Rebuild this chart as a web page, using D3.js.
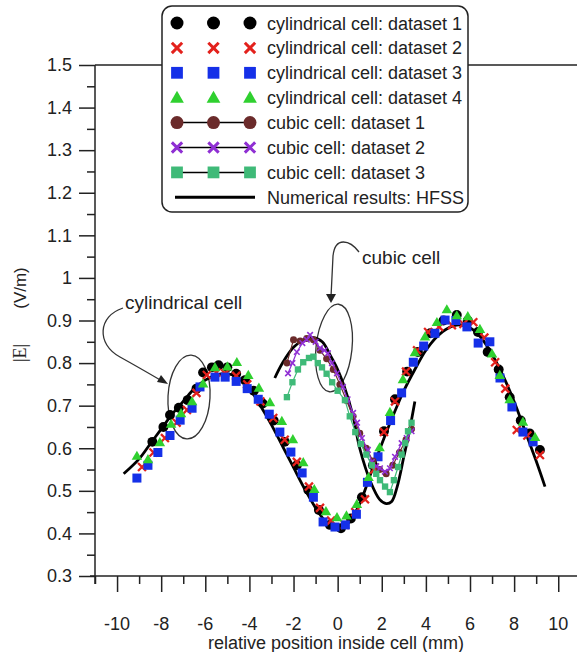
<!DOCTYPE html>
<html>
<head>
<meta charset="utf-8">
<script src="https://cdn.jsdelivr.net/npm/d3@7"></script>
<style>
  html, body { margin: 0; padding: 0; background: #fff; overflow: hidden; }
  svg { display: block; font-family: "Liberation Sans", Arial, sans-serif; }
</style>
</head>
<body>
<div id="chart"></div>
<script>
// ---- data ----
const xTicks = [-10, -8, -6, -4, -2, 0, 2, 4, 6, 8, 10];
const xMinor = [-11, -9, -7, -5, -3, -1, 1, 3, 5, 7, 9];
const yTicks = [0.3, 0.4, 0.5, 0.6, 0.7, 0.8, 0.9, 1, 1.1, 1.2, 1.3, 1.4, 1.5];
const yMinor = [0.35, 0.45, 0.55, 0.65, 0.75, 0.85, 0.95, 1.05, 1.15, 1.25, 1.35, 1.45];

const legendLabels = [
  "cylindrical cell: dataset 1", "cylindrical cell: dataset 2",
  "cylindrical cell: dataset 3", "cylindrical cell: dataset 4",
  "cubic cell: dataset 1", "cubic cell: dataset 2", "cubic cell: dataset 3",
  "Numerical results: HFSS"
];

const cyl1 = [[-8.4,0.615],[-7.9,0.65],[-7.6,0.678],[-7.2,0.695],[-6.8,0.713],[-6.4,0.74],[-6.1,0.778],[-5.7,0.79],[-5.4,0.795],[-5.0,0.79],[-4.6,0.775],[-4.2,0.76],[-3.8,0.735],[-3.4,0.705],[-2.9,0.665],[-2.4,0.615],[-1.85,0.56],[-1.33,0.502],[-0.85,0.455],[-0.35,0.42],[0.15,0.412],[0.6,0.435],[1.1,0.485],[1.6,0.56],[2.1,0.64],[2.6,0.715],[3.15,0.78],[3.64,0.826],[4.2,0.87],[4.8,0.9],[5.4,0.913],[5.9,0.9],[6.36,0.873],[6.8,0.826],[7.3,0.785],[7.8,0.72],[8.3,0.665],[8.7,0.635],[9.17,0.596]];
const cyl2 = [[-8.87,0.556],[-8.35,0.59],[-7.83,0.624],[-7.3,0.66],[-6.83,0.69],[-6.4,0.73],[-5.93,0.772],[-5.5,0.778],[-5.1,0.776],[-4.6,0.77],[-4.1,0.75],[-3.5,0.71],[-2.92,0.671],[-2.4,0.62],[-1.85,0.568],[-1.3,0.51],[-0.8,0.46],[-0.3,0.43],[0.33,0.42],[0.8,0.45],[1.24,0.48],[1.65,0.55],[2.1,0.638],[2.6,0.71],[3.1,0.78],[3.6,0.83],[4.1,0.873],[4.6,0.885],[5.18,0.889],[5.7,0.892],[6.15,0.896],[6.65,0.86],[7.14,0.802],[7.6,0.74],[8.12,0.643],[8.6,0.63],[9.17,0.584]];
const cyl3 = [[-9.1,0.53],[-8.6,0.56],[-8.15,0.59],[-7.6,0.63],[-7.14,0.666],[-6.6,0.694],[-6.24,0.744],[-5.56,0.767],[-5.1,0.767],[-4.6,0.757],[-4.1,0.74],[-3.6,0.715],[-3.1,0.68],[-2.62,0.638],[-2.12,0.591],[-1.61,0.542],[-1.1,0.485],[-0.66,0.427],[-0.12,0.415],[0.35,0.42],[0.85,0.445],[1.35,0.52],[1.83,0.58],[2.4,0.665],[2.9,0.73],[3.43,0.802],[3.9,0.84],[4.41,0.87],[4.87,0.901],[5.36,0.9],[5.86,0.885],[6.37,0.847],[6.9,0.85],[7.36,0.765],[7.9,0.697],[8.4,0.638],[8.86,0.615]];
const cyl4 = [[-9.1,0.58],[-8.6,0.572],[-8.06,0.612],[-7.55,0.655],[-7.1,0.68],[-6.6,0.708],[-6.1,0.75],[-5.56,0.788],[-5.0,0.79],[-4.57,0.8],[-4.05,0.77],[-3.57,0.74],[-3.07,0.706],[-2.53,0.662],[-2.03,0.619],[-1.56,0.565],[-1.06,0.502],[-0.53,0.45],[-0.03,0.436],[0.4,0.44],[0.87,0.467],[1.4,0.53],[1.9,0.6],[2.37,0.683],[2.96,0.76],[3.5,0.823],[3.96,0.86],[4.5,0.894],[4.95,0.924],[5.4,0.91],[5.9,0.908],[6.45,0.878],[7.0,0.82],[7.35,0.77],[7.8,0.713],[8.4,0.66],[8.95,0.624]];

const cub1 = [[-2.3,0.8],[-2.0,0.855],[-1.7,0.852],[-1.4,0.858],[-1.1,0.855],[-0.8,0.83],[-0.5,0.81],[-0.2,0.785],[0.1,0.75],[0.4,0.712],[0.7,0.675],[1.0,0.635],[1.3,0.6],[1.6,0.57],[1.9,0.55],[2.2,0.54],[2.5,0.56],[2.8,0.59],[3.1,0.62],[3.35,0.645]];
const cub2 = [[-2.25,0.776],[-2.05,0.8],[-1.85,0.826],[-1.6,0.847],[-1.4,0.855],[-1.25,0.866],[-1.0,0.85],[-0.8,0.835],[-0.6,0.83],[-0.44,0.823],[-0.26,0.8],[-0.03,0.776],[0.24,0.744],[0.45,0.715],[0.7,0.683],[0.88,0.66],[1.1,0.624],[1.37,0.596],[1.55,0.568],[1.75,0.558],[1.92,0.553],[2.14,0.545],[2.37,0.553],[2.6,0.58],[2.9,0.612],[3.13,0.624],[3.35,0.64]];
const cub3 = [[-2.3,0.72],[-2.05,0.755],[-1.8,0.785],[-1.56,0.802],[-1.3,0.812],[-1.1,0.815],[-0.9,0.8],[-0.71,0.79],[-0.5,0.775],[-0.25,0.755],[0.0,0.735],[0.33,0.713],[0.55,0.675],[0.8,0.638],[1.05,0.61],[1.3,0.585],[1.55,0.56],[1.75,0.54],[1.92,0.525],[2.15,0.51],[2.37,0.497],[2.55,0.525],[2.74,0.556],[2.9,0.585],[3.06,0.612],[3.19,0.64],[3.35,0.66]];

const hfssCyl = [[-9.7,0.54],[-9.0,0.575],[-8.5,0.61],[-8.0,0.645],[-7.5,0.68],[-7.0,0.71],[-6.5,0.74],[-6.0,0.76],[-5.5,0.772],[-5.0,0.775],[-4.5,0.765],[-4.0,0.74],[-3.5,0.7],[-3.0,0.655],[-2.5,0.605],[-2.0,0.555],[-1.5,0.505],[-1.0,0.46],[-0.5,0.425],[0,0.41],[0.5,0.425],[1.0,0.47],[1.5,0.54],[2.0,0.61],[2.5,0.675],[3.0,0.735],[3.5,0.785],[4.0,0.83],[4.5,0.862],[5.0,0.882],[5.5,0.89],[6.0,0.883],[6.5,0.86],[7.0,0.82],[7.5,0.77],[8.0,0.71],[8.5,0.64],[9.0,0.57],[9.4,0.51]];
const hfssCub = [[-2.85,0.765],[-2.5,0.8],[-2.0,0.837],[-1.5,0.856],[-1.1,0.86],[-0.7,0.85],[-0.3,0.815],[0.0,0.785],[0.3,0.745],[0.7,0.675],[1.0,0.6],[1.5,0.52],[1.9,0.48],[2.2,0.47],[2.45,0.475],[2.7,0.51],[3.0,0.58],[3.25,0.64],[3.5,0.71]];

// ---- drawing ----
const W = 577, H = 652;
const svg = d3.select("#chart").append("svg")
  .attr("width", W).attr("height", H)
  .attr("viewBox", `0 0 ${W} ${H}`);

const x = d3.scaleLinear().domain([-11, 11]).range([95, 580.3]);
const y = d3.scaleLinear().domain([0.3, 1.5]).range([576, 65]);

const C = {
  black: "#000000", red: "#e3211c", blue: "#1530e8", green: "#2fd02f",
  brown: "#6b2b2b", purple: "#8f2fd3", sea: "#3fba78"
};
const FONT = 18;

// frame lines
svg.append("line").attr("x1", 95).attr("x2", W).attr("y1", y(1.5)).attr("y2", y(1.5))
  .attr("stroke", "#222").attr("stroke-width", 1.5);

// axes (ticks from d3.axis, labels placed from the same scale)
const gx = svg.append("g").attr("transform", `translate(0,${y(0.3)})`);
gx.call(d3.axisBottom(x).tickValues(xTicks).tickSize(16).tickFormat(""));
gx.append("g").call(d3.axisBottom(x).tickValues(xMinor).tickSize(8).tickFormat(""));

const gy = svg.append("g").attr("transform", `translate(${x(-11)},0)`);
gy.call(d3.axisLeft(y).tickValues(yTicks).tickSize(16).tickPadding(7)
  .tickFormat(d => String(+d.toFixed(1))));
gy.append("g").call(d3.axisLeft(y).tickValues(yMinor).tickSize(8).tickFormat(""));

svg.selectAll(".domain").remove();
svg.selectAll(".tick line").attr("stroke", "#222").attr("stroke-width", 1.5);
svg.selectAll(".tick text").attr("font-size", FONT).attr("fill", "#222")
  .attr("font-family", "Liberation Sans, Arial, sans-serif");

svg.append("line").attr("x1", 90).attr("x2", W).attr("y1", y(0.3)).attr("y2", y(0.3))
  .attr("stroke", "#222").attr("stroke-width", 1.5);
svg.append("line").attr("x1", x(-11)).attr("x2", x(-11)).attr("y1", y(1.5)).attr("y2", y(0.3) + 8)
  .attr("stroke", "#222").attr("stroke-width", 1.5);

// x tick labels
const xl = svg.append("g").attr("class", "xlabels");
xTicks.forEach(v => {
  xl.append("text")
    .attr("x", x(v)).attr("y", y(0.3) + 54)
    .attr("text-anchor", "middle").attr("font-size", FONT).attr("fill", "#222")
    .text(String(v));
});

// axis titles
svg.append("text").attr("x", 336).attr("y", 649).attr("text-anchor", "middle")
  .attr("font-size", FONT).attr("fill", "#222").text("relative position inside cell (mm)");
svg.append("text").attr("transform", "translate(26,353) rotate(-90)").attr("text-anchor", "middle")
  .attr("font-family", "Liberation Serif, Times New Roman, serif")
  .attr("font-size", FONT).attr("fill", "#222").text("|E|");
svg.append("text").attr("transform", "translate(26,288) rotate(-90)").attr("text-anchor", "middle")
  .attr("font-size", FONT - 1).attr("fill", "#222").text("(V/m)");

// annotations
const ann = svg.append("g").attr("fill", "none").attr("stroke", "#333").attr("stroke-width", 1.3);
ann.append("ellipse").attr("cx", 189).attr("cy", 397).attr("rx", 21).attr("ry", 42)
  .attr("transform", "rotate(3,189,397)");
ann.append("ellipse").attr("cx", 334).attr("cy", 348).attr("rx", 18).attr("ry", 44)
  .attr("transform", "rotate(6,334,348)");
ann.append("path").attr("d", "M123,308 C98,316 96,344 120,357 C138,367 150,374 162,381");
ann.append("path").attr("d", "M359,252 C350,240 335,236 333,256 L331,297");
svg.append("path").attr("d", "M168,384 L157,382 L161,375 Z").attr("fill", "#222");
svg.append("path").attr("d", "M331,303 L326,294 L336,294 Z").attr("fill", "#222");
svg.append("text").attr("x", 125).attr("y", 309).attr("font-size", 19).attr("fill", "#222").text("cylindrical cell");
svg.append("text").attr("x", 362).attr("y", 264).attr("font-size", 19).attr("fill", "#222").text("cubic cell");

// HFSS curves
const line = d3.line().x(d => x(d[0])).y(d => y(d[1])).curve(d3.curveCatmullRom);
svg.append("path").datum(hfssCyl).attr("d", line).attr("fill", "none")
  .attr("stroke", "#000").attr("stroke-width", 2.8);
svg.append("path").datum(hfssCub).attr("d", line).attr("fill", "none")
  .attr("stroke", "#000").attr("stroke-width", 2.8);

// markers
function xPath(s) {
  return `M${-s},${-s}L${s},${s}M${-s},${s}L${s},${-s}`;
}
function marker(g, type, color, px, py, k) {
  if (type === "x") {
    g.append("path").attr("transform", `translate(${px},${py})`).attr("d", xPath(4.5 * k))
      .attr("stroke", color).attr("stroke-width", 2.6 * k).attr("fill", "none");
    return;
  }
  const sym = { circle: d3.symbolCircle, square: d3.symbolSquare, triangle: d3.symbolTriangle }[type];
  const size = { circle: 100, square: 105, triangle: 62 }[type] * k * k;
  g.append("path").attr("transform", `translate(${px},${py})`)
    .attr("d", d3.symbol(sym, size)()).attr("fill", color);
}
function scatter(data, type, color, k) {
  const g = svg.append("g");
  data.forEach(d => marker(g, type, color, x(d[0]), y(d[1]), k));
}
function cubic(data, type, color) {
  svg.append("path").datum(data).attr("d", d3.line().x(d => x(d[0])).y(d => y(d[1])))
    .attr("fill", "none").attr("stroke", color).attr("stroke-width", 1.2);
  scatter(data, type, color, 0.62);
}

scatter(cyl1, "circle", C.black, 0.88);
scatter(cyl2, "x", C.red, 0.88);
scatter(cyl3, "square", C.blue, 0.88);
scatter(cyl4, "triangle", C.green, 0.88);
cubic(cub1, "circle", C.brown);
cubic(cub2, "x", C.purple);
cubic(cub3, "square", C.sea);

// legend
const lg = svg.append("g");
lg.append("rect").attr("x", 162).attr("y", 6).attr("width", 306).attr("height", 206).attr("rx", 10)
  .attr("fill", "#fff").attr("stroke", "#222").attr("stroke-width", 1.5);
const legendMarks = [
  ["circle", C.black, false], ["x", C.red, false], ["square", C.blue, false], ["triangle", C.green, false],
  ["circle", C.brown, true], ["x", C.purple, true], ["square", C.sea, true], [null, "#000", true]
];
const cols = [177, 213.5, 250];
legendLabels.forEach((label, i) => {
  const ry = 23 + i * 24.9;
  const [type, color, joined] = legendMarks[i];
  if (type === null) {
    lg.append("line").attr("x1", 175).attr("x2", 255).attr("y1", ry).attr("y2", ry)
      .attr("stroke", "#000").attr("stroke-width", 3);
  } else {
    if (joined) {
      lg.append("line").attr("x1", cols[0]).attr("x2", cols[2]).attr("y1", ry).attr("y2", ry)
        .attr("stroke", "#000").attr("stroke-width", 1.5);
    }
    cols.forEach(cx => marker(lg, type, color, cx, type === "triangle" ? ry + 1 : ry, 1.15));
  }
  lg.append("text").attr("x", 267).attr("y", ry + 6.5).attr("font-size", FONT)
    .attr("fill", "#222").text(label);
});
</script>
</body>
</html>
